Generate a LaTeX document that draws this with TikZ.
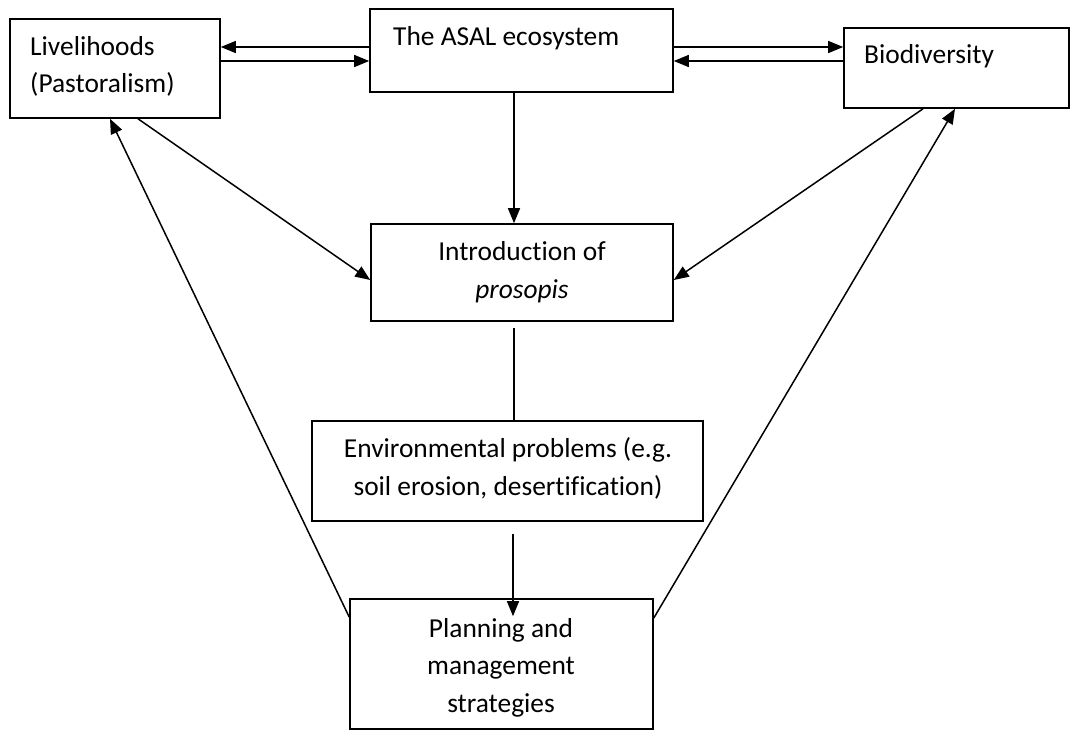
\documentclass[tikz,border=0pt]{standalone}
\usepackage{fontspec}
\setmainfont{Carlito}[Ligatures=NoCommon]
\usetikzlibrary{arrows.meta,calc}
\begin{document}
\begin{tikzpicture}[x=1pt,y=-1pt,
  box/.style={draw, line width=1.6pt, inner sep=0pt},
  txt/.style={inner sep=0pt, font=\fontsize{27.4}{37}\selectfont},
  arr/.style={line width=1.5pt, -{Triangle[length=15pt,width=12pt]}},
  ln/.style={line width=1.5pt}]
\useasboundingbox (0,0) rectangle (1071,732);
% boxes
\node[box, minimum width=210pt, minimum height=99pt] (liv) at (115,68.5) {};
\node[box, minimum width=303pt, minimum height=83pt] (asal) at (521.5,50.5) {};
\node[box, minimum width=225pt, minimum height=80pt] (bio) at (956.5,68) {};
\node[box, minimum width=302pt, minimum height=97pt] (intro) at (522,272.5) {};
\node[box, minimum width=391pt, minimum height=100pt] (env) at (507.5,471) {};
\node[box, minimum width=303pt, minimum height=130pt] (plan) at (501.5,664) {};
% texts
\node[txt, anchor=base west] (livA) at (30,55) {Livelihoods};
\node[txt, anchor=base west] (livB) at (30,92) {(Pastoralism)};
\node[txt, anchor=base west] (asalT) at (393,45) {The ASAL ecosystem};
\node[txt, anchor=base west] (bioT) at (864,63) {Biodiversity};
\node[txt, anchor=base] (introA) at (522,260) {Introduction of};
\node[txt, anchor=base] (introB) at (522,298) {\itshape prosopis};
\node[txt, anchor=base] (envA) at (508,457) {Environmental problems (e.g.};
\node[txt, anchor=base] (envB) at (508,495) {soil erosion, desertification)};
\node[txt, anchor=base] (planA) at (501,637) {Planning and};
\node[txt, anchor=base] (planB) at (501,674) {management};
\node[txt, anchor=base] (planC) at (501,712) {strategies};
% connectors
\draw[arr] (asal.west |- 0,47) -- (liv.east |- 0,47);
\draw[arr] (liv.east |- 0,61) -- (asal.west |- 0,61);
\draw[arr] (asal.east |- 0,47) -- (bio.west |- 0,47);
\draw[arr] (bio.west |- 0,61) -- (asal.east |- 0,61);
\draw[arr] (asal.south -| 514,0) -- (intro.north -| 514,0);
\draw[arr] (liv.south -| 138,0) -- (intro.west |- 0,280);
\draw[arr] (bio.south -| 923,0) -- (intro.east |- 0,280);
\draw[ln] ($(intro.south -| 514,0)+(0,6)$) -- (env.north -| 514,0);
\draw[arr] ($(env.south -| 513,0)+(0,12)$) -- ($(plan.north -| 513,0)+(0,18)$);
\draw[arr] (plan.west |- 0,617) -- (liv.south -| 110,0);
\draw[arr] (plan.east |- 0,618) -- (bio.south -| 955,0);
\end{tikzpicture}
\end{document}
